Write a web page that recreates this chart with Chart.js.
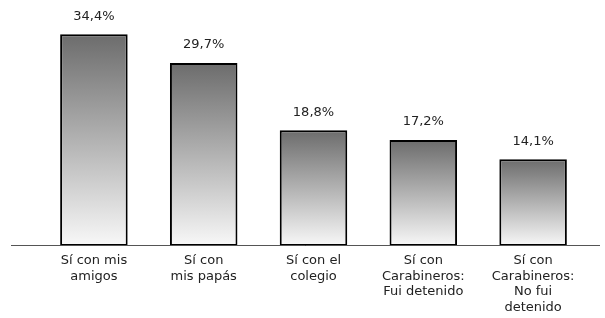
<!DOCTYPE html>
<html><head><meta charset="utf-8">
<script src="https://cdn.jsdelivr.net/npm/chart.js@4/dist/chart.umd.min.js"></script>
<style>html,body{margin:0;padding:0;background:#fff}#w{width:605px;height:318px}</style>
</head><body><div id="w"><canvas id="c" width="605" height="318"></canvas></div>
<script>
const categories = [
  ["Sí con mis","amigos"],
  ["Sí con","mis papás"],
  ["Sí con el","colegio"],
  ["Sí con","Carabineros:","Fui detenido"],
  ["Sí con","Carabineros:","No fui","detenido"]
];
const values = [34.4, 29.7, 18.8, 17.2, 14.1];
const valueLabels = ["34,4%","29,7%","18,8%","17,2%","14,1%"];

const FONT = "'DejaVu Sans', sans-serif";

const extras = {
  id: 'extras',
  afterDatasetsDraw(chart) {
    const ctx = chart.ctx;
    const y0 = chart.scales.y.getPixelForValue(0);
    ctx.save();
    ctx.strokeStyle = '#555';
    ctx.lineWidth = 1;
    ctx.beginPath();
    ctx.moveTo(11, Math.round(y0) - 0.5);
    ctx.lineTo(600, Math.round(y0) - 0.5);
    ctx.stroke();
    ctx.fillStyle = '#222';
    ctx.font = '13px ' + FONT;
    ctx.textAlign = 'center';
    ctx.textBaseline = 'middle';
    chart.getDatasetMeta(0).data.forEach((bar, i) => {
      ctx.fillText(valueLabels[i], bar.x, bar.y - 18);
    });
    ctx.restore();
  }
};

new Chart(document.getElementById('c'), {
  type: 'bar',
  data: {
    labels: categories,
    datasets: [{
      data: values,
      borderColor: '#000',
      borderWidth: 2,
      borderSkipped: false,
      barPercentage: 0.615,
      categoryPercentage: 1,
      backgroundColor(context) {
        const chart = context.chart;
        const ca = chart.chartArea;
        if (!ca) return '#999';
        const ys = chart.scales.y;
        const top = ys.getPixelForValue(context.parsed ? context.parsed.y : values[context.dataIndex]);
        const bot = ys.getPixelForValue(0);
        const g = chart.ctx.createLinearGradient(0, top, 0, bot);
        g.addColorStop(0, '#6c6c6c');
        g.addColorStop(1, '#f8f8f8');
        return g;
      }
    }]
  },
  options: {
    responsive: false,
    animation: false,
    devicePixelRatio: 1,
    layout: { padding: { left: 39, right: 17, top: 12, bottom: 0 } },
    plugins: { legend: { display: false }, tooltip: { enabled: false } },
    scales: {
      x: {
        grid: { display: false, drawTicks: false },
        border: { display: false },
        ticks: { color: '#222', font: { family: FONT, size: 13 }, padding: 7, maxRotation: 0, autoSkip: false },
        afterFit(scale) { scale.height = 72; }
      },
      y: {
        display: false,
        min: 0, max: 38
      }
    }
  },
  plugins: [extras]
});
</script></body></html>
